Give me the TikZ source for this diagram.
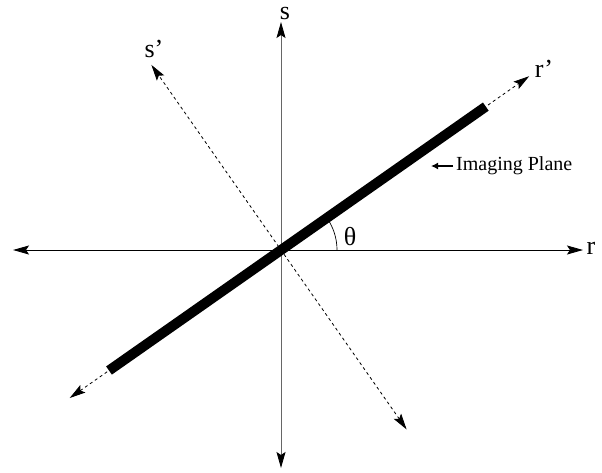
\documentclass[tikz,border=0pt]{standalone}
\usepackage{fontspec}
\setmainfont{Liberation Serif}
\usetikzlibrary{arrows.meta}
\begin{document}
\begin{tikzpicture}[x=1pt,y=-1pt,
  axisline/.style={line width=0.8pt, {Stealth[length=16pt,width=9pt,inset=3pt,color=black]}-{Stealth[length=16pt,width=9pt,inset=3pt,color=black]}},
  dashaxis/.style={axisline, dash pattern=on 3pt off 3pt},
  lbl/.style={font=\fontsize{26}{28}\selectfont, inner sep=0pt},
  small/.style={font=\fontsize{20}{22}\selectfont, inner sep=0pt}]
\useasboundingbox (0,0) rectangle (602,472);
% key points
\coordinate (C) at (281,250);
\coordinate (hL) at (13,250);
\coordinate (hR) at (583,250);
\coordinate (vT) at (281,22);
\coordinate (vB) at (281,468);
\coordinate (rpT) at (529.2,76.2);
\coordinate (rpB) at (69.7,398.0);
\coordinate (barT) at (485.8,106.6);
\coordinate (barB) at (109.0,370.5);
\coordinate (spT) at (151.4,64.9);
\coordinate (spB) at (406.6,429.4);
\coordinate (ipA) at (453,166);
\coordinate (ipB) at (431,166);
% axes
\draw[axisline] (hL) -- (hR);
\draw[axisline, black!60] (vB) -- (vT);
\draw[dashaxis] (rpB) -- (rpT);
\draw[dashaxis] (spB) -- (spT);
% imaging plane bar
\draw[line width=10pt, line cap=butt] (barB) -- (barT);
% angle arc
\draw[line width=0.7pt] (337,250) arc[start angle=0, end angle=-35, radius=56];
% labels
\node[lbl] (lr) at (591,248) {r};
\node[lbl] (ls) at (285,13) {s};
\node[lbl] (lrp) at (544,69) {r’};
\node[lbl] (lsp) at (154,49) {s’};
\node[lbl] (lth) at (350,237) {θ};
\node[small, anchor=west] (lip) at (456,166) {Imaging Plane};
\draw[line width=2.6pt, -{Latex[length=7pt,width=7pt]}] (ipA) -- (ipB);
\end{tikzpicture}
\end{document}
